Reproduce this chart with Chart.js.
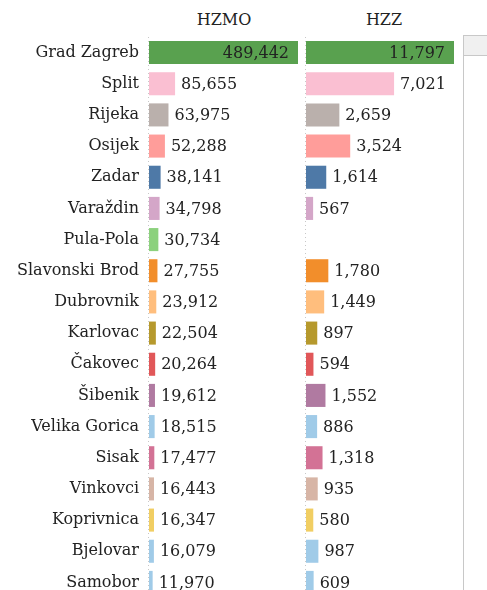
<!DOCTYPE html>
<html>
<head>
<meta charset="utf-8">
<script src="https://cdn.jsdelivr.net/npm/chart.js@4"></script>
<style>
  html, body { margin: 0; padding: 0; background: #fff; overflow: hidden; }
  body { width: 487px; height: 590px; position: relative; font-family: "DejaVu Serif", serif; }
  .head { position: absolute; top: 10px; font-size: 16px; color: #222; text-align: center; width: 120px; }
  canvas { position: absolute; top: 0; }
  #box { position: absolute; left: 463px; top: 35px; width: 40px; height: 600px; border-left: 1px solid #c8c8c8; border-top: 1px solid #c8c8c8; }
  #boxHead { height: 19px; background: #f0f0f0; border-bottom: 1px solid #c8c8c8; }
</style>
</head>
<body>
<div class="head" style="left:164px">HZMO</div>
<div class="head" style="left:324px">HZZ</div>
<canvas id="hzmoChart" width="302" height="600" style="left:0"></canvas>
<canvas id="hzzChart" width="160" height="600" style="left:300px"></canvas>
<div id="box"><div id="boxHead"></div></div>
<script>
const cities = ["Grad Zagreb", "Split", "Rijeka", "Osijek", "Zadar", "Varaždin", "Pula-Pola",
  "Slavonski Brod", "Dubrovnik", "Karlovac", "Čakovec", "Šibenik", "Velika Gorica", "Sisak",
  "Vinkovci", "Koprivnica", "Bjelovar", "Samobor"];
const hzmo = [489442, 85655, 63975, 52288, 38141, 34798, 30734, 27755, 23912, 22504, 20264,
  19612, 18515, 17477, 16443, 16347, 16079, 11970];
const hzz = [11797, 7021, 2659, 3524, 1614, 567, null, 1780, 1449, 897, 594, 1552, 886, 1318,
  935, 580, 987, 609];
const colors = ["#59a14f", "#fabfd2", "#bab0ac", "#ff9d9a", "#4e79a7", "#d4a6c8", "#8cd17d",
  "#f28e2b", "#ffbe7d", "#b6992d", "#e15759", "#b07aa1", "#a0cbe8", "#d37295", "#d7b5a6",
  "#f1ce63", "#a0cbe8", "#a0cbe8"];

const font = "16px 'DejaVu Serif', serif";

// dotted zero line + value labels
const labelPlugin = {
  id: "labels",
  beforeDatasetsDraw(chart) {
    const ctx = chart.ctx;
    const x0 = chart.scales.x.getPixelForValue(0);
    ctx.save();
    ctx.strokeStyle = "#c8c8c8";
    ctx.lineWidth = 1;
    ctx.setLineDash([1, 3]);
    ctx.beginPath();
    ctx.moveTo(x0 - 0.5, chart.chartArea.top);
    ctx.lineTo(x0 - 0.5, chart.chartArea.bottom);
    ctx.stroke();
    ctx.restore();
  },
  afterDatasetsDraw(chart) {
    const ctx = chart.ctx;
    const data = chart.data.datasets[0].data;
    const max = chart.scales.x.max;
    ctx.save();
    ctx.font = font;
    ctx.fillStyle = "#222";
    ctx.textBaseline = "middle";
    chart.getDatasetMeta(0).data.forEach((bar, i) => {
      const v = data[i];
      if (v == null) return;
      const txt = v.toLocaleString("en-US");
      if (v / max > 0.8) {
        ctx.textAlign = "right";
        ctx.fillText(txt, bar.x - 9, bar.y + 1);
      } else {
        ctx.textAlign = "left";
        ctx.fillText(txt, bar.x + 6, bar.y + 1);
      }
    });
    ctx.restore();
  }
};

function makeChart(id, values, showNames, pad) {
  return new Chart(document.getElementById(id), {
    type: "bar",
    data: {
      labels: cities,
      datasets: [{
        data: values,
        backgroundColor: colors,
        borderWidth: 0,
        categoryPercentage: 1,
        barPercentage: 0.74
      }]
    },
    options: {
      indexAxis: "y",
      responsive: false,
      animation: false,
      layout: { padding: pad },
      plugins: { legend: { display: false }, tooltip: { enabled: false } },
      scales: {
        x: {
          display: false,
          min: 0,
          max: Math.max(...values.filter(v => v != null))
        },
        y: {
          display: showNames,
          grid: { display: false, drawTicks: false },
          border: { display: false },
          ticks: { color: "#222", font: { family: "'DejaVu Serif', serif", size: 16 }, padding: 10 },
          afterFit(scale) {
            if (showNames) scale.width = 149;
            scale.paddingTop = 0;
            scale.paddingBottom = 0;
          }
        }
      }
    },
    plugins: [labelPlugin]
  });
}

makeChart("hzmoChart", hzmo, true, { top: 37, bottom: 2, left: 0, right: 4 });
makeChart("hzzChart", hzz, false, { top: 37, bottom: 2, left: 6, right: 6 });
</script>
</body>
</html>
